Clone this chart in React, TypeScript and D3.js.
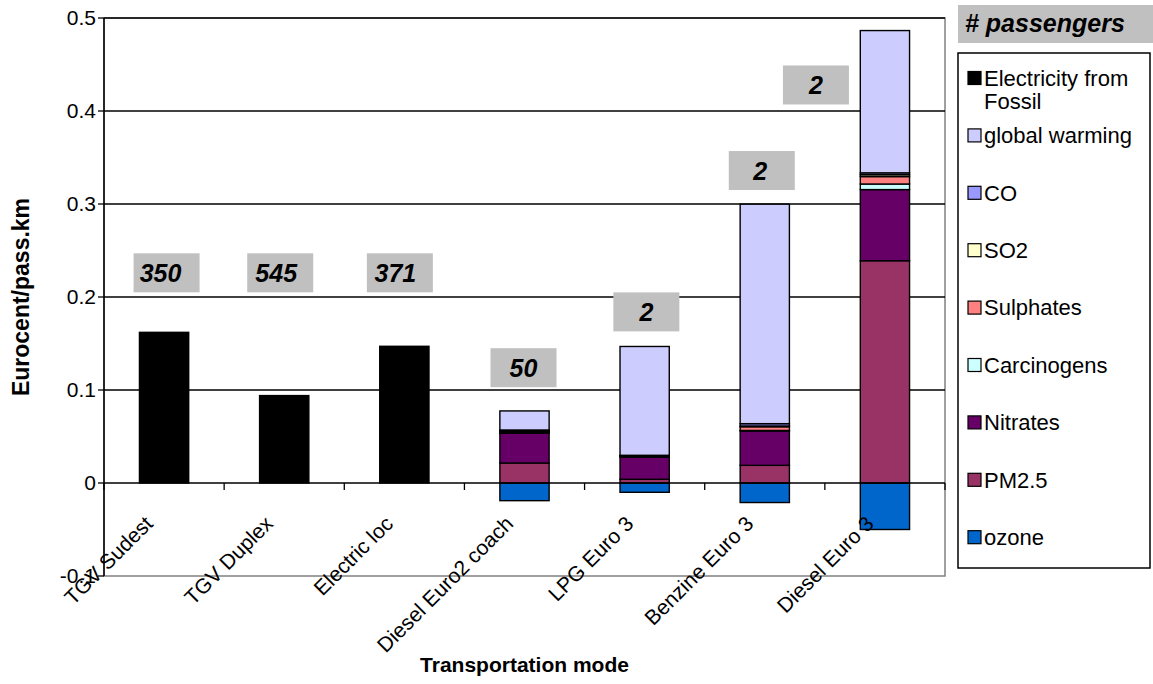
import React from "react";
import * as d3 from "d3";

const categories = [
  "TGV Sudest",
  "TGV Duplex",
  "Electric loc",
  "Diesel Euro2 coach",
  "LPG Euro 3",
  "Benzine Euro 3",
  "Diesel Euro 3",
];

// series, listed bottom -> top of the stack
const ozone = [0, 0, 0, -0.019, -0.01, -0.021, -0.05];
const pm25 = [0, 0, 0, 0.0215, 0.004, 0.019, 0.239];
const nitrates = [0, 0, 0, 0.032, 0.024, 0.037, 0.0765];
const carcinogens = [0, 0, 0, 0.001, 0.0005, 0.0005, 0.006];
const sulphates = [0, 0, 0, 0.001, 0.0005, 0.004, 0.008];
const so2 = [0, 0, 0, 0.0005, 0.0003, 0.0008, 0.002];
const co = [0, 0, 0, 0.001, 0.0005, 0.0025, 0.002];
const globalWarming = [0, 0, 0, 0.0205, 0.117, 0.236, 0.153];
const electricity = [0.162, 0.094, 0.147, 0, 0, 0, 0];

const seriesNames = [
  "ozone",
  "PM2.5",
  "Nitrates",
  "Carcinogens",
  "Sulphates",
  "SO2",
  "CO",
  "global warming",
  "Electricity from Fossil",
];
const seriesValues = [ozone, pm25, nitrates, carcinogens, sulphates, so2, co, globalWarming, electricity];
const seriesColors = [
  "#0066CC",
  "#993366",
  "#660066",
  "#CCFFFF",
  "#FF8080",
  "#FFFFCC",
  "#9999FF",
  "#CCCCFF",
  "#000000",
];

const yTicks = [-0.1, 0, 0.1, 0.2, 0.3, 0.4, 0.5];
const yTickLabels = ["-0.1", "0", "0.1", "0.2", "0.3", "0.4", "0.5"];

// passenger count annotations
const passengers = ["350", "545", "371", "50", "2", "2", "2"];
const passengerY = [0.226, 0.226, 0.226, 0.124, 0.184, 0.336, 0.428];
const passengerDx = [2.5, -4, -4.5, -1, 1.7, -3, -69];
const passengerTextDx = [-6, -4, -4.5, 0, 0, -1.5, 0];

const FONT = "'Liberation Sans', Arial, Helvetica, sans-serif";

export default function App() {
  const W = 1153;
  const H = 684;
  const left = 104;
  const right = 945;
  const top = 18;
  const bottom = 576;

  const x = d3.scaleBand<string>().domain(categories).range([left, right]).paddingInner(0.59).paddingOuter(0.295);
  const xCat = d3.scaleBand<string>().domain(categories).range([left, right]);
  const y = d3.scaleLinear().domain([-0.1, 0.5]).range([bottom, top]);

  const table = categories.map((c, i) => {
    const row: any = { cat: c };
    seriesNames.forEach((s, j) => (row[s] = seriesValues[j][i]));
    return row;
  });
  const stack = d3.stack<any>().keys(seriesNames).offset(d3.stackOffsetDiverging);
  const layers = stack(table);

  const legendOrder = [...seriesNames].reverse();
  const legendColors = [...seriesColors].reverse();

  return (
    <svg width={W} height={H} style={{ position: "absolute", left: 0, top: 0, background: "#fff" }} fontFamily={FONT}>
      {/* plot border */}
      <rect x={left} y={top} width={right - left} height={bottom - top} fill="none" stroke="#808080" strokeWidth={1.5} />
      {/* gridlines */}
      {yTicks
        .filter((t) => t > 0)
        .map((t) => (
          <line key={t} x1={left} x2={right} y1={y(t)} y2={y(t)} stroke="#000" strokeWidth={1.3} />
        ))}
      {/* bars */}
      {layers.map((layer, j) => (
        <g key={seriesNames[j]}>
          {layer.map((d, i) => {
            const v = seriesValues[j][i];
            if (!v) return null;
            const y0 = y(d[0]);
            const y1 = y(d[1]);
            return (
              <rect
                key={i}
                x={x(categories[i])}
                y={Math.min(y0, y1)}
                width={x.bandwidth()}
                height={Math.abs(y1 - y0)}
                fill={seriesColors[j]}
                stroke="#000"
                strokeWidth={1.4}
              />
            );
          })}
        </g>
      ))}
      {/* zero axis line */}
      <line x1={left} x2={right} y1={y(0)} y2={y(0)} stroke="#000" strokeWidth={1.5} />
      {categories.map((c) => (
        <line key={c} x1={xCat(c)!} x2={xCat(c)!} y1={y(0)} y2={y(0) + 7} stroke="#000" strokeWidth={1.3} />
      ))}
      <line x1={right} x2={right} y1={y(0)} y2={y(0) + 7} stroke="#000" strokeWidth={1.3} />
      {/* y axis */}
      <line x1={left} x2={left} y1={top} y2={bottom} stroke="#000" strokeWidth={1.5} />
      {yTicks.map((t, i) => (
        <g key={t}>
          <line x1={left - 6} x2={left} y1={y(t)} y2={y(t)} stroke="#000" strokeWidth={1.3} />
          <text x={left - 8} y={y(t)} dy="0.35em" textAnchor="end" fontSize={21} fill="#000">
            {yTickLabels[i]}
          </text>
        </g>
      ))}
      {/* category labels */}
      {categories.map((c) => {
        const cx = xCat(c)! + xCat.bandwidth() / 2;
        const ax = cx - 10;
        const ay = y(0) + 42;
        return (
          <text key={c} x={ax} y={ay} transform={`rotate(-45 ${ax} ${ay})`} textAnchor="end" fontSize={21} fill="#000">
            {c}
          </text>
        );
      })}
      {/* passenger annotations */}
      {categories.map((c, i) => {
        const cx = xCat(c)! + xCat.bandwidth() / 2 + passengerDx[i];
        const cy = y(passengerY[i]);
        return (
          <g key={"p" + c}>
            <rect x={cx - 33} y={cy - 19.5} width={66} height={39} fill="#C0C0C0" />
            <text
              x={cx + passengerTextDx[i]}
              y={cy}
              dy="0.36em"
              textAnchor="middle"
              fontSize={25}
              fontWeight="bold"
              fontStyle="italic"
              fill="#000"
            >
              {passengers[i]}
            </text>
          </g>
        );
      })}
      {/* axis titles */}
      <text
        x={0}
        y={0}
        transform={`translate(29 ${(top + bottom) / 2}) rotate(-90)`}
        textAnchor="middle"
        fontSize={23}
        fontWeight="bold"
        fill="#000"
      >
        Eurocent/pass.km
      </text>
      <text x={(left + right) / 2} y={672} textAnchor="middle" fontSize={21} fontWeight="bold" fill="#000">
        Transportation mode
      </text>
      {/* legend header */}
      <rect x={958} y={5} width={195} height={38} fill="#C0C0C0" />
      <text x={965} y={32} fontSize={25} fontWeight="bold" fontStyle="italic" fill="#000">
        # passengers
      </text>
      {/* legend */}
      <rect x={958} y={53} width={192} height={515} fill="#fff" stroke="#000" strokeWidth={1.5} />
      {legendOrder.map((s, k) => {
        const ly = 78 + k * 57.4;
        const lines = s === "Electricity from Fossil" ? ["Electricity from", "Fossil"] : [s];
        return (
          <g key={s}>
            <rect x={968} y={ly - 6.5} width={13} height={13} fill={legendColors[k]} stroke="#000" strokeWidth={1.2} />
            {lines.map((ln, m) => (
              <text key={m} x={984} y={ly + m * 23} dy="0.35em" fontSize={22} fill="#000">
                {ln}
              </text>
            ))}
          </g>
        );
      })}
    </svg>
  );
}
